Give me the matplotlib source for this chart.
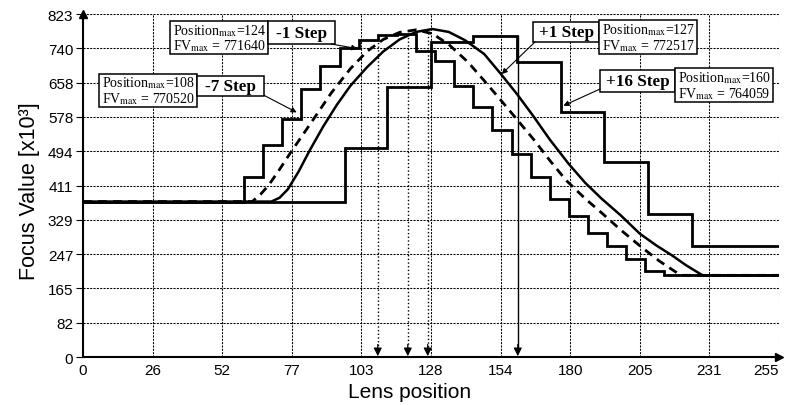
import matplotlib.pyplot as plt
from matplotlib.patches import Rectangle

plt.rcParams['font.family'] = 'Liberation Sans'
plt.rcParams['mathtext.fontset'] = 'stix'

# axis ticks
x_ticks = [0, 25.5, 51, 76.5, 102, 127.5, 153, 178.5, 204, 229.5, 255]
x_labels = ['0', '26', '52', '77', '103', '128', '154', '180', '205', '231', '255']
y_ticks = [0, 82.3, 164.6, 246.9, 329.2, 411.5, 493.8, 576.1, 658.4, 740.7, 823]
y_labels = ['0', '82', '165', '247', '329', '411', '494', '578', '658', '740', '823']

# -7 step scan (stairs: edges / focus values x10^3)
step7_edges = [0, 59, 66, 73, 80, 87, 94, 101, 108, 115, 122, 129, 136, 143, 150,
               157, 164, 171, 178, 185, 192, 199, 206, 213, 255]
step7_fv = [373, 431, 508, 571, 643, 699, 741, 760, 773, 775, 735, 711, 651, 599,
            545, 487, 433, 380, 338, 297, 267, 235, 206, 196]

# +16 step scan
step16_edges = [0, 96, 111.5, 127.5, 143, 159, 175, 191, 207, 223, 255]
step16_fv = [373, 501, 647, 756, 771, 709, 587, 468, 343, 266]

# -1 step scan (dashed)
m1_pos = [0, 62, 65, 68, 72, 76, 80, 85, 91, 98, 104, 110, 116, 122, 128, 134, 141,
          147, 153, 159, 165, 171, 177, 184, 190, 197, 204, 211, 219, 255]
m1_fv = [373, 373, 390, 412, 450, 490, 528, 576, 634, 692, 733, 762, 779, 785, 776,
         750, 708, 663, 617, 570, 523, 472, 424, 380, 346, 305, 267, 231, 196, 196]

# +1 step scan (solid)
p1_pos = [0, 69, 72, 75, 79, 83, 88, 93, 98, 104, 110, 116, 122, 128, 134, 140, 147,
          153, 159, 165, 171, 178, 184, 190, 197, 204, 210, 216, 221, 227, 255]
p1_fv = [373, 373, 382, 402, 445, 495, 553, 605, 651, 695, 733, 762, 780, 787, 780,
         760, 727, 680, 631, 578, 522, 463, 418, 380, 340, 296, 268, 243, 220, 196, 196]

# detected maxima
peak_pos = [108, 119, 126.3, 159.3]
peak_fv = [773, 784, 787, 771]

fig = plt.figure(figsize=(7.89, 4.06), dpi=100)
ax = fig.add_axes([0.1052, 0.1182, 0.8821, 0.8448])

ax.stairs(step7_fv, step7_edges, baseline=None, color='k', lw=2, zorder=3)
ax.stairs(step16_fv, step16_edges, baseline=None, color='k', lw=2, zorder=3)
ax.plot(m1_pos, m1_fv, color='k', lw=2, ls=(0, (3.2, 2.2)), zorder=3)
ax.plot(p1_pos, p1_fv, color='k', lw=1.8, zorder=3)

ax.set_xlim(0, 255)
ax.set_ylim(0, 823)
ax.set_xticks(x_ticks, x_labels)
ax.set_yticks(y_ticks, y_labels)
ax.tick_params(axis='x', length=0, pad=4, labelsize=11)
ax.tick_params(axis='y', length=5, width=0.8, pad=2, labelsize=11)
ax.get_xticklabels()[-1].set_horizontalalignment('right')
ax.grid(True, color='k', linestyle=(0, (2, 1.2)), linewidth=0.75)
ax.set_axisbelow(True)
for s in ['top', 'right']:
    ax.spines[s].set_visible(False)
for s in ['left', 'bottom']:
    ax.spines[s].set_linewidth(1.5)
ax.plot(0, 1, '^k', ms=6, transform=ax.transAxes, clip_on=False)
ax.plot(1, 0, '>k', ms=6, transform=ax.transAxes, clip_on=False)

# arrows from the maxima down to the lens axis
styles = [':', ':', ':', '-']
for x, top, ls in zip(peak_pos, peak_fv, styles):
    ax.plot([x, x], [top, 25], color='k', lw=1.0, ls=ls, zorder=4)
    ax.annotate('', xy=(x, 2), xytext=(x, 30),
                arrowprops=dict(arrowstyle='-|>', color='k', lw=0.9,
                                mutation_scale=12, shrinkA=0, shrinkB=0))


def box(x0, x1, y0, y1, txt, bold=False):
    ax.add_patch(Rectangle((x0, y0), x1 - x0, y1 - y0, fc='white', ec='k', lw=1.1, zorder=5))
    if bold:
        ax.text((x0 + x1) / 2, (y0 + y1) / 2, txt, ha='center', va='center',
                family='Liberation Serif', weight='bold', fontsize=12.3, zorder=6)
    else:
        ax.text(x0 + 1.0, (y0 + y1) / 2, txt, ha='left', va='center',
                family='Liberation Serif', fontsize=10, linespacing=1.0, zorder=6)


def leader(xy, xytext):
    ax.annotate('', xy=xy, xytext=xytext, zorder=6,
                arrowprops=dict(arrowstyle='-|>', color='k', lw=0.8,
                                mutation_scale=8, shrinkA=0, shrinkB=0))


box(31.9, 67.8, 727, 806, 'Position$_{\\rm max}$=124\nFV$_{\\rm max}$ = 771640')
box(67.8, 92.3, 751, 806, '-1 Step', bold=True)
box(5.9, 41.8, 600, 679, 'Position$_{\\rm max}$=108\nFV$_{\\rm max}$ = 770520')
box(41.8, 66.3, 626, 674, '-7 Step', bold=True)
box(164.9, 189.1, 756, 804, '+1 Step', bold=True)
box(189.1, 225.0, 727, 808, 'Position$_{\\rm max}$=127\nFV$_{\\rm max}$ = 772517')
box(189.4, 216.9, 636, 689, '+16 Step', bold=True)
box(216.9, 252.8, 612, 693, 'Position$_{\\rm max}$=160\nFV$_{\\rm max}$ = 764059')

leader((100.5, 740), (91, 751))
leader((78.3, 587), (66.3, 628))
leader((153.4, 679), (165.6, 756))
leader((176, 603), (189.4, 643))

fig.text(30 / 789, 1 - 191 / 406, 'Focus Value [x10³]', rotation=90,
         ha='center', va='center', fontsize=15.5)
fig.text(410 / 789, 1 - 393 / 406, 'Lens position', ha='center', va='center', fontsize=15)

fig.savefig('out.png', dpi=100)
